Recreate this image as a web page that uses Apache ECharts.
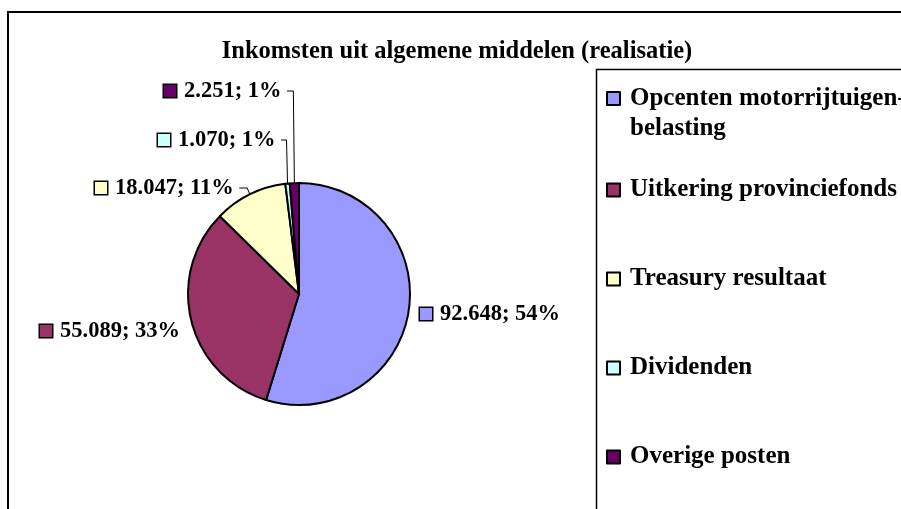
<!DOCTYPE html>
<html>
<head>
<meta charset="utf-8">
<script src="https://cdn.jsdelivr.net/npm/echarts@6/dist/echarts.min.js"></script>
<style>
html,body{margin:0;padding:0;background:#fff;}
#chart{width:901px;height:509px;}
</style>
</head>
<body>
<div id="chart"></div>
<script>
// ---- data ----
var titleText = 'Inkomsten uit algemene middelen (realisatie)';
var categories = ['Opcenten motorrijtuigen-belasting', 'Uitkering provinciefonds', 'Treasury resultaat', 'Dividenden', 'Overige posten'];
var values = [92.648, 55.089, 18.047, 1.070, 2.251];
var valueLabels = ['92.648', '55.089', '18.047', '1.070', '2.251'];
var percentLabels = ['54%', '33%', '11%', '1%', '1%'];

// ---- styles / layout ----
var colors = ['#9999FF', '#993366', '#FFFFCC', '#CCFFFF', '#660066'];
// label anchor (left x of marker, middle y) and whether a leader line is drawn
var labelPos = [[420, 314, false], [40, 331, false], [95, 188, true], [158, 140, true], [164, 91, true]];
// legend block top for each entry
var legendTops = [56, 177.5, 266.5, 355.5, 444.5];
var serif = '"Liberation Serif", "Times New Roman", serif';

var rich = {
  g: {width: 8},
  t: {fontFamily: serif, fontWeight: 'bold', fontSize: 22.5, color: '#000', lineHeight: 26}
};
colors.forEach(function (c, i) {
  rich['sq' + i] = {width: 12, height: 12, backgroundColor: c, borderColor: '#000', borderWidth: 1.5};
});

var legendText = {
  fontFamily: serif, fontWeight: 'bold', fontSize: 25, color: '#000',
  rich: {
    s: {lineHeight: 30, fontSize: 25},
    a: {lineHeight: 30, fontFamily: serif, fontWeight: 'bold', fontSize: 25, color: '#000', padding: [0, 0, 0, 5]}
  }
};

var legends = categories.map(function (c, i) {
  return {
    orient: 'vertical',
    left: 606,
    top: legendTops[i],
    padding: 0,
    itemGap: 0,
    itemWidth: 13,
    itemHeight: 13,
    icon: 'rect',
    selectedMode: false,
    data: [c],
    formatter: function (name) {
      var k = name.indexOf('-');
      if (k >= 0) {
        return '{s| }\n{a|' + name.slice(0, k + 1) + '}\n{a|' + name.slice(k + 1) + '}';
      }
      return '{a|' + name + '}';
    },
    textStyle: legendText
  };
});

var chart = echarts.init(document.getElementById('chart'), null, {renderer: 'canvas'});
chart.setOption({
  backgroundColor: '#fff',
  animation: false,
  color: colors,
  title: {
    text: titleText,
    left: 452,
    top: 34,
    textAlign: 'center',
    textStyle: {fontFamily: serif, fontWeight: 'bold', fontSize: 24.5, color: '#000'}
  },
  graphic: [
    {type: 'rect', shape: {x: 8, y: 12, width: 1000, height: 700}, style: {fill: 'none', stroke: '#000', lineWidth: 2}, silent: true},
    {type: 'rect', shape: {x: 596.5, y: 69.5, width: 500, height: 600}, style: {fill: 'none', stroke: '#000', lineWidth: 1.5}, silent: true}
  ],
  legend: legends,
  series: [{
    type: 'pie',
    center: [299, 294],
    radius: 111,
    startAngle: 90,
    clockwise: true,
    avoidLabelOverlap: false,
    itemStyle: {borderColor: '#000', borderWidth: 2},
    emphasis: {disabled: true},
    label: {
      show: true,
      position: 'outside',
      formatter: function (p) {
        return '{sq' + p.dataIndex + '|}{g|}{t|' + valueLabels[p.dataIndex] + '; ' + percentLabels[p.dataIndex] + '}';
      },
      rich: rich
    },
    labelLine: {show: true, length: 10, length2: 10, lineStyle: {color: '#000', width: 1}},
    labelLayout: function (params) {
      var lp = labelPos[params.dataIndex];
      var w = params.labelRect.width;
      var endX = lp[0] + w + 4;
      var edge = params.labelLinePoints ? params.labelLinePoints[0] : [lp[0], lp[1]];
      var pts;
      if (lp[2]) {
        var bendX = Math.min(edge[0], endX + 8);
        if (params.dataIndex !== 2) { bendX = edge[0] - 1; }
        pts = [[edge[0], edge[1]], [bendX, lp[1]], [endX, lp[1]]];
      } else {
        pts = [[edge[0], edge[1]], [edge[0], edge[1]], [edge[0], edge[1]]];
      }
      return {x: lp[0], y: lp[1], align: 'left', verticalAlign: 'middle', labelLinePoints: pts};
    },
    data: categories.map(function (c, i) { return {name: c, value: values[i]}; })
  }]
});
</script>
</body>
</html>
